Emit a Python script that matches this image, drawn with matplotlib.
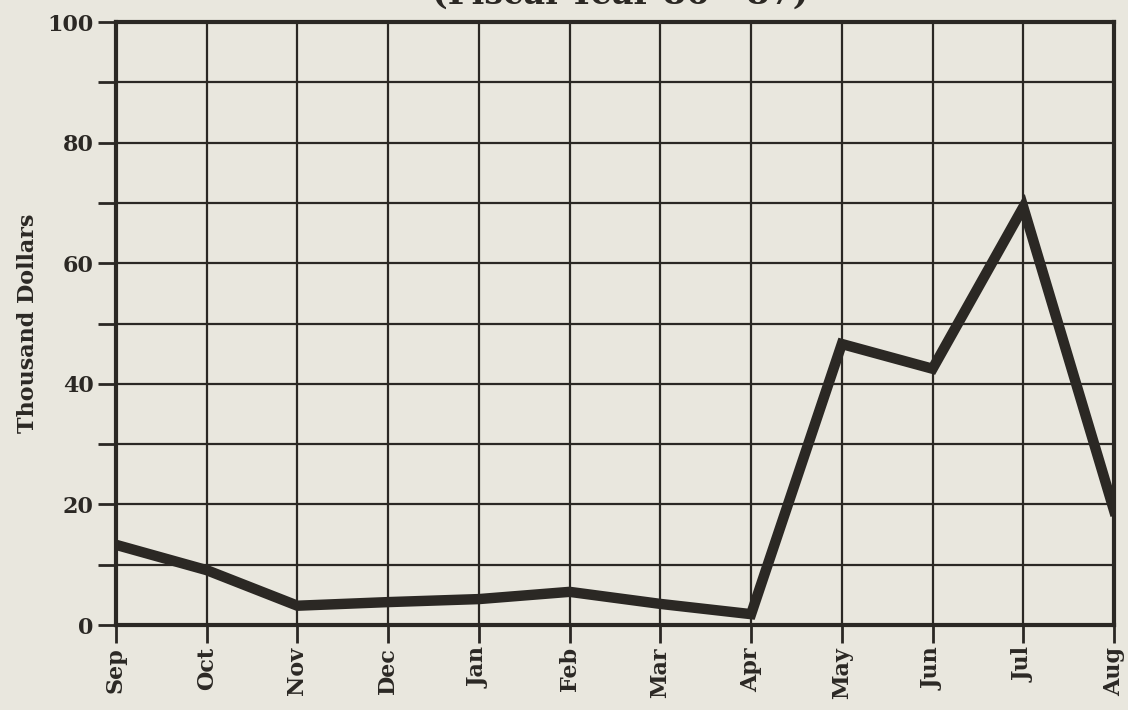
import numpy as np
import matplotlib.pyplot as plt

# monthly values, thousand dollars
months = ['Sep', 'Oct', 'Nov', 'Dec', 'Jan', 'Feb', 'Mar', 'Apr', 'May', 'Jun', 'Jul', 'Aug']
values = [13.3, 9.1, 3.2, 3.8, 4.3, 5.5, 3.5, 1.8, 46.6, 42.5, 69.3, 19.0]
y_major = [0, 20, 40, 60, 80, 100]
y_minor = [10, 30, 50, 70, 90]

paper = '#e9e7de'
ink = '#2b2824'

plt.rcParams['font.family'] = ['DejaVu Serif']
plt.rcParams['font.weight'] = 'bold'

fig = plt.figure(figsize=(11.28, 7.10), dpi=100, facecolor=paper)
ax = fig.add_axes([0.1028, 0.1197, 0.8848, 0.8493], facecolor=paper)

x = np.arange(len(months))
ax.plot(x, values, color=ink, lw=7.5, solid_joinstyle='miter', zorder=3)

ax.set_xlim(0, len(months) - 1)
ax.set_ylim(0, 100)
ax.set_xticks(x)
ax.set_xticklabels(months, rotation=90, fontsize=16, fontweight='bold', color=ink)
ax.set_yticks(y_major)
ax.set_yticklabels([str(v) for v in y_major], fontsize=16, fontweight='bold', color=ink)
ax.set_yticks(y_minor, minor=True)
ax.tick_params(axis='both', which='both', direction='out', length=13, width=2, color=ink)
ax.tick_params(axis='x', pad=3)
ax.tick_params(axis='y', pad=3)
ax.grid(True, which='both', color=ink, lw=1.6)
ax.set_axisbelow(True)

for s in ax.spines.values():
    s.set_color(ink)
    s.set_linewidth(3)

ax.set_ylabel('Thousand Dollars', fontsize=16, fontweight='bold', color=ink, labelpad=6)

# title sits mostly above the top edge, as in the scanned original
fig.text(0.55, 1.008, '(Fiscal Year 86 - 87)', ha='center', va='center',
         fontsize=24, fontweight='bold', color=ink)

plt.savefig('out.png', dpi=100, facecolor=paper)
